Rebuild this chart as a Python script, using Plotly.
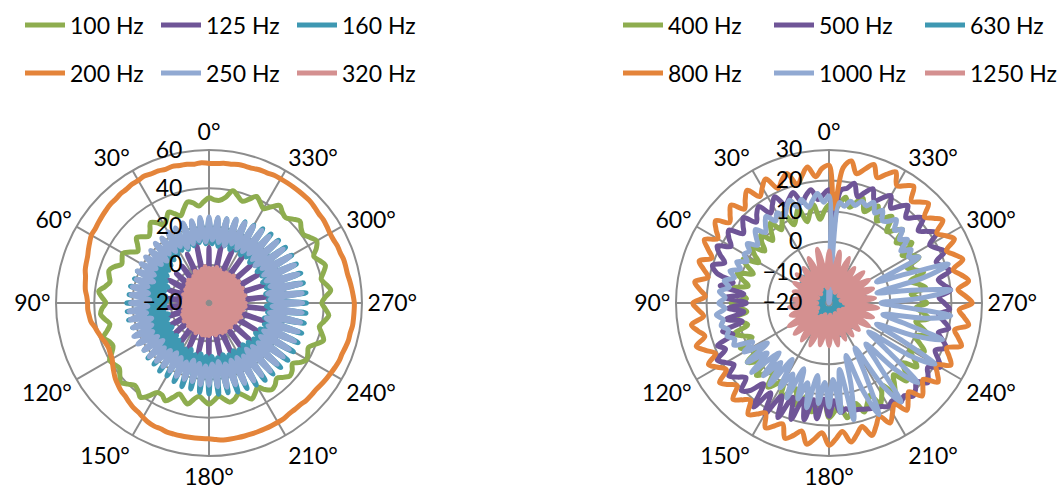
import plotly.graph_objects as go

# Angles of every measurement (degrees, 3-degree steps)
theta = list(range(0, 360, 3))
angle_tickvals = list(range(0, 360, 30))
angle_ticktext = [f"{a}°" for a in angle_tickvals]

# ---- Low-frequency chart (dB) ----
low_ticks = [-20, 0, 20, 40, 60]

hz100 = [35, 33, 31, 33, 34, 31, 28, 30, 32, 29,
         27, 30, 32, 29, 27, 29, 31, 28, 26, 29,
         32, 31, 30, 33, 35, 34, 33, 35, 38, 36,
         34, 36, 37, 35, 33, 35, 38, 36, 35, 37,
         40, 39, 38, 40, 42, 40, 38, 39, 41, 38,
         34, 34, 36, 33, 30, 32, 34, 31, 29, 31,
         33, 31, 29, 31, 33, 32, 30, 32, 35, 33,
         31, 34, 36, 35, 33, 35, 37, 36, 34, 37,
         39, 38, 37, 40, 43, 41, 39, 41, 43, 41,
         39, 41, 44, 42, 40, 42, 44, 42, 40, 43,
         45, 43, 41, 42, 44, 42, 40, 41, 43, 40,
         37, 39, 41, 38, 36, 38, 40, 36, 34, 34]

hz125 = [9, -6, -5, -6, 11, -5, -6, -5, 8, -6,
         -5, -6, 4, -6, -5, -6, 3, -5, -6, -5,
         4, -6, -5, -6, 2, -5, -6, -5, 3, -6,
         -5, -6, 5, -5, -6, -5, 6, -6, -5, -6,
         6, -5, -6, -5, 7, -6, -5, -6, 8, -5,
         -6, -5, 9, -6, -5, -6, 8, -5, -6, -5,
         10, -6, -5, -6, 9, -5, -6, -5, 10, -6,
         -5, -6, 11, -5, -6, -5, 9, -6, -5, -6,
         10, -5, -6, -5, 11, -6, -5, -6, 10, -5,
         -6, -5, 11, -6, -5, -6, 10, -5, -6, -5,
         11, -6, -5, -6, 10, -5, -6, -5, 11, -6,
         -5, -6, 10, -5, -6, -5, 12, -6, -5, -6]

hz160 = [24, 11, 24, 12, 23, 11, 23, 10, 22, 11,
         22, 10, 21, 9, 21, 8, 20, 7, 20, 6,
         20, 5, 21, 3, 21, 4, 22, 3, 22, 2,
         23, 3, 23, 4, 23, 2, 22, 3, 22, 4,
         22, 3, 22, 5, 23, 4, 23, 5, 24, 6,
         24, 7, 25, 6, 26, 8, 26, 7, 27, 8,
         27.5, 8, 28, 9, 28, 8, 29, 9, 29, 8,
         29.5, 9, 30, 8, 30, 9, 30.5, 10, 31, 9,
         31, 10, 31, 11, 31, 10, 31, 11, 31, 10,
         31, 11, 31, 10, 30.5, 11, 30.5, 10, 30, 11,
         30, 10, 29.5, 11, 29, 10, 28.5, 11, 28, 10,
         27, 11, 26.5, 10, 26, 11, 25, 10, 24.5, 11]

hz200 = [53, 53.5, 53, 53.5, 53.5, 54, 53.5, 54, 54, 54.5,
         54, 54, 53.5, 53.5, 53, 53, 52.5, 52, 51.5, 51,
         51, 50, 49, 48, 47.5, 47, 46, 45.5, 45, 44,
         43.5, 43.5, 43, 42.5, 41, 40, 39, 38, 37.5, 38,
         38.5, 40, 41.5, 43, 44, 45, 45.5, 46.5, 47.5, 48,
         49, 50, 50.5, 50.5, 51, 51, 51, 51, 51, 51,
         51, 51.5, 52, 52, 52, 52, 52, 52, 52, 52,
         52, 52, 51.5, 51.5, 51.5, 52, 52, 52, 52.5, 53,
         53.5, 54, 54.5, 54.5, 55, 55.5, 55.5, 56, 56, 56,
         56, 55.5, 55, 54.5, 54, 54, 54, 53.5, 53.5, 53,
         53, 53.5, 54, 54, 54.5, 55, 55, 55, 55, 55,
         55, 55, 54.5, 54.5, 54, 54, 54, 53.5, 53.5, 53]

hz250 = [25, 12, 25, 13, 24, 12, 24, 11, 23, 13,
         23, 12, 22, 13, 22, 11, 21, 12, 21, 13,
         21, 12, 21, 11, 20, 13, 21, 12, 21, 11,
         21, 12, 22, 13, 22, 11, 22, 12, 23, 13,
         23, 12, 22, 11, 22, 13, 21, 12, 21, 11,
         21, 12, 22, 13, 22, 11, 22, 12, 23, 13,
         23, 12, 24, 11, 25, 13, 25, 12, 26, 12,
         27, 13, 27, 11, 28, 12, 28, 13, 28, 12,
         28.5, 12, 29, 13, 29, 11, 29, 12, 29, 13,
         29, 12, 29, 11, 29, 13, 29, 12, 29, 12,
         29, 13, 28, 11, 28, 12, 27, 13, 27, 12,
         26.5, 12, 26, 13, 26, 11, 25, 12, 25, 13]

hz320 = [-2, -16, -1, -17, -2, -15, -3, -16, -2, -17,
         -4, -16, -5, -17, -4, -15, -5, -16, -6, -17,
         -6, -16, -7, -15, -6, -17, -7, -16, -7, -15,
         -7, -16, -6, -17, -7, -15, -6, -16, -5, -17,
         -5, -16, -4, -15, -5, -17, -4, -16, -4, -15,
         -4, -16, -3, -17, -4, -15, -3, -16, -3, -17,
         -3, -16, -4, -15, -3, -17, -4, -16, -3, -15,
         -3, -16, -4, -17, -3, -15, -4, -16, -3, -17,
         -3, -16, -2, -15, -3, -17, -2, -16, -1, -15,
         -1, -16, -2, -17, -1, -15, -2, -16, -1, -17,
         -2, -16, -1, -15, -2, -17, -1, -16, -2, -15,
         -2, -16, -3, -17, -2, -15, -1, -16, -2, -17]

# ---- Mid-frequency chart (dB) ----
mid_ticks = [-20, -10, 0, 10, 20, 30]

hz400 = [12, 10, 7.5, 12.5, 10, 7.5, 12.5, 10, 8, 13,
         10.7, 8.5, 12.5, 10, 7.5, 11.5, 9.5, 7, 11, 9,
         6.5, 11.5, 9, 6.5, 11.5, 9.2, 7, 11.5, 9.4, 7,
         12, 9.4, 7, 12, 9.5, 7.5, 12.5, 10, 7.5, 12.5,
         10, 8, 13, 10.5, 8.5, 13.5, 11, 9, 14, 11.5,
         9.5, 14.5, 12, 10, 15, 12.5, 10.5, 16, 14, 12,
         17.5, 15.5, 13.5, 18, 16, 14, 17.5, 15, 13, 17,
         14.5, 12, 16.5, 14, 11.5, 16, 13.5, 11, 15.5, 13,
         10.5, 15, 12.5, 10, 14, 11.5, 9, 13, 11, 8.5,
         12, 9.4, 7, 12, 9.8, 7.5, 12.5, 10.2, 8, 13,
         11, 8.5, 13.5, 11.5, 9.5, 14, 12, 10, 15, 13,
         11, 15.5, 14, 12, 16, 14, 12, 15, 12.5, 10]

hz500 = [17, 15.5, 14, 17.5, 16, 14, 18, 16.5, 15, 19,
         17, 15, 19, 17.5, 15.5, 19.5, 17.8, 16, 20.5, 19,
         17, 21, 19, 16.5, 20, 18, 12, 16, 8, 14,
         7, 13, 8, 14, 9, 16, 13, 19, 17, 21,
         19, 17, 20.5, 18.5, 16.5, 20.5, 18.5, 14, 22, 15,
         22, 14, 21, 13, 20, 12.5, 19, 12, 18, 11.5,
         17, 12, 16, 15, 16, 16, 16.5, 17, 17.5, 18,
         19, 18, 20, 19, 21, 20, 18.5, 21.5, 20, 18.5,
         22, 20, 18, 21, 19, 17, 20, 18, 16, 19.5,
         17.7, 16, 20, 18, 16.5, 21, 19, 17.5, 21.5, 19.5,
         18, 22, 19.8, 17.5, 21.5, 19.5, 17.5, 21, 19, 17,
         20.5, 18.6, 16.5, 20, 18, 16, 20, 18, 17, 4]

hz630 = [-9, -14, -18, -10, -15, -18, -11, -14, -18, -9,
         -13, -18, -10, -14, -18, -8, -13, -18, -9, -14,
         -18, -10, -14, -18, -11, -15, -18, -12, -15, -18,
         -10, -14, -18, -11, -15, -18, -9, -14, -18, -10,
         -13, -18, -9, -14, -18, -11, -15, -18, -10, -14,
         -18, -9, -13, -18, -10, -14, -18, -12, -15, -18,
         -11, -15, -18, -10, -14, -18, -9, -14, -18, -11,
         -15, -18, -10, -14, -18, -9, -13, -18, -10, -14,
         -18, -11, -15, -18, -10, -14, -18, -9, -13, -18,
         -10, -14, -18, -8, -13, -18, -9, -14, -18, -10,
         -14, -18, -11, -15, -18, -9, -13, -18, -10, -14,
         -18, -9, -14, -18, -10, -15, -18, -11, -14, -18]

hz800 = [25, 24, 21.5, 25, 22.5, 20, 24.5, 23, 21, 25.5,
         23.6, 21.5, 25.5, 23.5, 21.3, 25.3, 23.5, 21.8, 25.8, 24,
         22, 25.7, 23.3, 21, 24.6, 22.4, 20.4, 24.4, 22.5, 20.5,
         24.5, 22.8, 21.2, 25.5, 23.8, 22, 25.6, 23.2, 20.6, 24.2,
         22, 20, 24.2, 22.3, 20.4, 24.4, 22.6, 20.8, 25, 23.3,
         21.5, 25.8, 24, 22.3, 26.5, 24.8, 22.8, 26.7, 24.6, 22.5,
         26.5, 24.4, 22.2, 26, 23.9, 21.8, 25.5, 23, 20.6, 24,
         21.5, 19.4, 23.3, 21.1, 19, 23, 21.3, 19.6, 24, 22.2,
         20.5, 24.7, 23, 21.2, 25.5, 23.7, 22, 26.2, 24.4, 22.6,
         26.8, 24.6, 22.4, 26.2, 24.2, 22, 26, 24, 22, 26,
         24, 22, 26, 24, 22, 26, 24.4, 22.8, 27.1, 25.7,
         24.3, 28.1, 26, 23.9, 27.6, 25.3, 23.2, 27, 24.5, 11]

hz1000 = [15, 13, 16, 14, 12, 15, 13, 16, 14, 12,
          14, 12, 15, 13, 11, 14, 12, 10, 13, 11,
          12, 10, 13, 11, 14, 12, 15, 13, 16, 14,
          16, 14, 17, 15, 16, 14, 15, 13, 14, 8,
          12, 4, 13, 6, 14, 3, 12, 5, 13, 2,
          12, 6, 14, 3, 13, 7, 15, 4, 13, 6,
          14, 5, 16, 2, 19, 8, -2, 10, 20, 6,
          -3, 12, 20, 5, -2, 11, 19, 4, -4, 12,
          20, 6, -3, 10, 19, 5, -2, 12, 20, 4,
          -3, 10, 20, 6, -4, 12, 21, 5, -3, 13,
          10, 12, 9, 13, 11, 14, 12, 15, 13, 12,
          15, 13, 16, 14, 15, 13, 14, 12, 13, -20]

hz1250 = [-3, -9, -15, -8, -2, -9, -14, -9, -4, -10,
          -15, -10, -6, -10, -16, -10, -6, -11, -15, -11,
          -7, -11, -16, -11, -8, -11, -15, -11, -8, -11,
          -16, -11, -7, -10, -15, -10, -7, -10, -16, -10,
          -5, -9, -15, -9, -5, -9, -14, -9, -5, -10,
          -15, -10, -5, -10, -16, -10, -6, -10, -15, -10,
          -6, -10, -16, -10, -6, -10, -15, -11, -7, -11,
          -16, -11, -7, -11, -15, -11, -7, -10, -16, -10,
          -5, -9, -15, -9, -5, -9, -14, -9, -4, -9,
          -15, -9, -5, -9, -16, -9, -5, -9, -15, -9,
          -5, -9, -16, -9, -5, -10, -15, -10, -6, -10,
          -16, -10, -4, -9, -15, -9, -3, -9, -14, -9]

GREEN, PURPLE, TEAL = "#8EAD4F", "#6F5597", "#3E98B2"
ORANGE, LIGHTBLUE, PINK = "#E4843A", "#91A9D2", "#D49090"

FONT = "Lato, 'Noto Sans', sans-serif"
GRID = "#8C8C8C"

low_series = [("100 Hz", hz100, GREEN, "legend"), ("125 Hz", hz125, PURPLE, "legend"),
              ("160 Hz", hz160, TEAL, "legend"), ("200 Hz", hz200, ORANGE, "legend2"),
              ("250 Hz", hz250, LIGHTBLUE, "legend2"), ("320 Hz", hz320, PINK, "legend2")]
mid_series = [("400 Hz", hz400, GREEN, "legend3"), ("500 Hz", hz500, PURPLE, "legend3"),
              ("630 Hz", hz630, TEAL, "legend3"), ("800 Hz", hz800, ORANGE, "legend4"),
              ("1000 Hz", hz1000, LIGHTBLUE, "legend4"), ("1250 Hz", hz1250, PINK, "legend4")]

fig = go.Figure()


def add_series(series, subplot):
    for name, vals, color, leg in series:
        # close each loop by returning to the first measurement
        fig.add_trace(go.Scatterpolar(
            r=vals + vals[:1], theta=theta + theta[:1], mode="lines", name=name,
            line=dict(color=color, width=5, shape="spline", smoothing=1.0),
            subplot=subplot, legend=leg,
        ))


add_series(low_series, "polar")
add_series(mid_series, "polar2")

DOMAIN_Y = [0.0713, 0.6945]


def polar_layout(domain_x, rng, ticks):
    return dict(
        domain=dict(x=domain_x, y=DOMAIN_Y),
        bgcolor="white",
        radialaxis=dict(
            range=rng, tickvals=ticks, angle=90, side="counterclockwise", tickangle=90,
            showline=False, ticks="outside", ticklen=18, tickcolor="rgba(0,0,0,0)",
            gridcolor=GRID, gridwidth=1.5,
            tickfont=dict(family=FONT, size=23, color="black"),
        ),
        angularaxis=dict(
            rotation=90, direction="counterclockwise",
            tickvals=angle_tickvals, ticktext=angle_ticktext,
            showline=True, linecolor=GRID, linewidth=2,
            gridcolor=GRID, gridwidth=2, ticks="",
            tickfont=dict(family=FONT, size=23, color="black"),
        ),
    )


def legend_row(x_px, y_px, width):
    return dict(
        orientation="h", x=x_px / 1059, y=1 - y_px / 491, xanchor="left", yanchor="middle",
        entrywidth=width, entrywidthmode="pixels", itemwidth=40,
        bgcolor="rgba(0,0,0,0)", borderwidth=0,
        font=dict(family=FONT, size=23, color="black"),
    )


fig.update_layout(
    width=1059, height=491,
    margin=dict(l=0, r=0, t=0, b=0, autoexpand=False),
    paper_bgcolor="white",
    font=dict(family=FONT, size=23, color="black"),
    polar=polar_layout([0.0529, 0.3418], [-20, 60], low_ticks),
    polar2=polar_layout([0.6383, 0.9273], [-20, 30], mid_ticks),
    showlegend=True,
    legend=legend_row(20, 25, 81),
    legend2=legend_row(20, 73, 81),
    legend3=legend_row(618, 25, 96),
    legend4=legend_row(618, 73, 96),
)

fig.write_html("out.html")
